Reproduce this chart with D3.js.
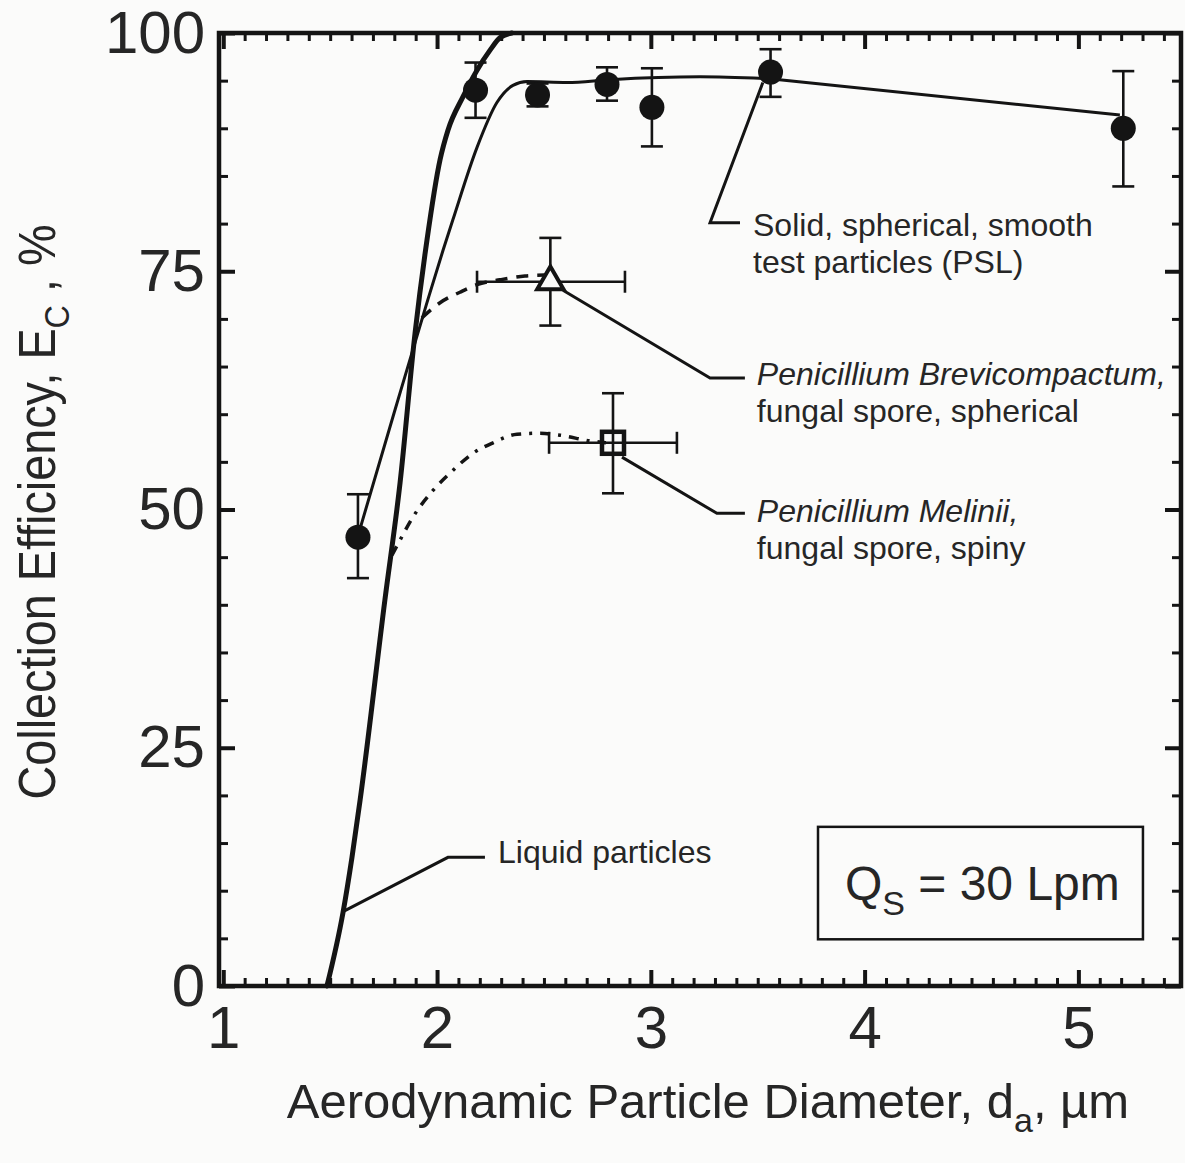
<!DOCTYPE html>
<html>
<head>
<meta charset="utf-8">
<script src="https://cdn.jsdelivr.net/npm/d3@7"></script>
<style>
  body { margin: 0; background: #fbfbfa; }
  svg { display: block; font-family: "Liberation Sans", Arial, Helvetica, sans-serif; }
</style>
</head>
<body>
<svg id="chart" width="1185" height="1163"></svg>
<script>
// ---- axis ticks ----
const xMajorTicks = [1, 2, 3, 4, 5];
const yMajorTicks = [0, 25, 50, 75, 100];

// ---- PSL test particles (filled circles, with vertical error bars) ----
const pslDiameter   = [1.63, 2.18, 2.47, 2.795, 3.005, 3.56, 5.21];
const pslEfficiency = [47.1, 94.0, 93.5, 94.6, 92.2, 95.9, 90.0];
const pslErrLow     = [42.8, 91.1, 92.3, 92.9, 88.1, 93.3, 83.9];
const pslErrHigh    = [51.6, 96.9, 94.7, 96.4, 96.3, 98.3, 96.0];

// ---- fungal spores: [diameter, efficiency], with x and y error ranges ----
const brevPoint   = [2.53, 73.9];
const brevXRange  = [2.187, 2.879];
const brevYRange  = [69.3, 78.5];
const melPoint    = [2.823, 57.0];
const melXRange   = [2.524, 3.122];
const melYRange   = [51.7, 62.2];

// ---- fitted curves [diameter, efficiency] ----
const liquidCurve = [
  [1.485, 0], [1.560, 7.7], [1.602, 13.5], [1.640, 19.5], [1.756, 40.5],
  [1.827, 52.8], [1.897, 68.5], [1.953, 78.3], [2.014, 86.7], [2.051, 89.8],
  [2.121, 93.3], [2.187, 96.1], [2.248, 98.2], [2.294, 99.5], [2.350, 100]
];
const pslCurve = [
  [1.64, 48.0], [1.80, 60.2], [1.95, 71.5], [2.028, 77.2], [2.074, 80.4],
  [2.187, 88.0], [2.280, 92.7], [2.355, 94.5], [2.421, 94.9],
  [2.608, 94.8], [2.809, 95.1], [3.230, 95.4], [3.557, 95.2]
];
const pslTail = [[3.557, 95.2], [5.194, 91.4]];
const brevCurve = [
  [1.929, 70.1], [2.014, 71.7], [2.107, 72.8], [2.187, 73.6], [2.294, 74.1],
  [2.411, 74.5], [2.510, 74.6]
];
const melCurve = [
  [1.789, 45.2], [1.827, 46.8], [1.887, 49.2], [1.981, 52.0], [2.074, 54.1],
  [2.168, 55.9], [2.262, 57.0], [2.374, 57.9], [2.481, 58.0], [2.575, 57.8],
  [2.715, 57.2], [2.790, 57.0]
];

// ---- annotation leaders (data units) ----
const liquidLeader = [[1.560, 7.8], [2.051, 13.5], [2.224, 13.5]];
const pslLeader    = [[3.524, 94.8], [3.277, 80.1], [3.417, 80.1]];
const brevLeader   = [[2.589, 73.0], [3.277, 63.8], [3.440, 63.8]];
const melLeader    = [[2.865, 55.5], [3.309, 49.6], [3.440, 49.6]];

const ink = "#141414";
const textInk = "#262626";

const svg = d3.select("#chart");
const x = d3.scaleLinear().domain([0.98, 5.48]).range([219, 1181]);
const y = d3.scaleLinear().domain([0, 100]).range([986, 33]);

const xMinor = d3.range(10, 55).map(i => i / 10).filter(v => Math.abs(v - Math.round(v)) > 1e-6);
const yMinor = d3.range(0, 101, 5).filter(v => v % 25 !== 0);

function tidy(g, width) {
  g.select(".domain").remove();
  g.selectAll(".tick line").attr("stroke", ink).attr("stroke-width", width);
  g.selectAll(".tick text").attr("font-size", 60).attr("fill", textInk)
    .attr("font-family", '"Liberation Sans", Arial, sans-serif');
}

// bottom
svg.append("g").attr("transform", `translate(0,${y(0)})`)
  .call(d3.axisBottom(x).tickValues(xMinor).tickSize(-8).tickFormat(""))
  .call(g => tidy(g, 3));
svg.append("g").attr("transform", `translate(0,${y(0)})`)
  .call(d3.axisBottom(x).tickValues(xMajorTicks).tickSize(-16).tickPadding(19).tickFormat(d3.format("d")))
  .call(g => tidy(g, 4));
// top
svg.append("g").attr("transform", `translate(0,${y(100)})`)
  .call(d3.axisTop(x).tickValues(xMinor).tickSize(-8).tickFormat(""))
  .call(g => tidy(g, 3));
svg.append("g").attr("transform", `translate(0,${y(100)})`)
  .call(d3.axisTop(x).tickValues(xMajorTicks).tickSize(-16).tickFormat(""))
  .call(g => tidy(g, 4));
// left
svg.append("g").attr("transform", `translate(${x.range()[0]},0)`)
  .call(d3.axisLeft(y).tickValues(yMinor).tickSize(-9).tickFormat(""))
  .call(g => tidy(g, 3));
svg.append("g").attr("transform", `translate(${x.range()[0]},0)`)
  .call(d3.axisLeft(y).tickValues(yMajorTicks).tickSize(-16).tickPadding(14).tickFormat(d3.format("d")))
  .call(g => tidy(g, 4));
// right
svg.append("g").attr("transform", `translate(${x.range()[1]},0)`)
  .call(d3.axisRight(y).tickValues(yMinor).tickSize(-9).tickFormat(""))
  .call(g => tidy(g, 3));
svg.append("g").attr("transform", `translate(${x.range()[1]},0)`)
  .call(d3.axisRight(y).tickValues(yMajorTicks).tickSize(-16).tickFormat(""))
  .call(g => tidy(g, 4));

// ---- curves ----
const line = d3.line().x(d => x(d[0])).y(d => y(d[1])).curve(d3.curveMonotoneX);
const plain = d3.line().x(d => x(d[0])).y(d => y(d[1]));

svg.append("path").attr("d", line(liquidCurve))
  .attr("fill", "none").attr("stroke", ink).attr("stroke-width", 5).attr("stroke-linecap", "round");
svg.append("path").attr("d", line(pslCurve))
  .attr("fill", "none").attr("stroke", ink).attr("stroke-width", 3);
svg.append("path").attr("d", plain(pslTail))
  .attr("fill", "none").attr("stroke", ink).attr("stroke-width", 3);
svg.append("path").attr("d", line(brevCurve))
  .attr("fill", "none").attr("stroke", ink).attr("stroke-width", 3.5).attr("stroke-dasharray", "12,9");
svg.append("path").attr("d", line(melCurve))
  .attr("fill", "none").attr("stroke", ink).attr("stroke-width", 3.5).attr("stroke-dasharray", "10,8,3,8");

// ---- error bars ----
const cap = 11;
const eb = svg.append("g").attr("stroke", ink).attr("stroke-width", 2.6).attr("fill", "none");
function vBar(xv, lo, hi) {
  eb.append("line").attr("x1", x(xv)).attr("x2", x(xv)).attr("y1", y(lo)).attr("y2", y(hi));
  [lo, hi].forEach(v => eb.append("line").attr("x1", x(xv) - cap).attr("x2", x(xv) + cap)
    .attr("y1", y(v)).attr("y2", y(v)));
}
function hBar(yv, lo, hi) {
  eb.append("line").attr("y1", y(yv)).attr("y2", y(yv)).attr("x1", x(lo)).attr("x2", x(hi));
  [lo, hi].forEach(v => eb.append("line").attr("y1", y(yv) - cap).attr("y2", y(yv) + cap)
    .attr("x1", x(v)).attr("x2", x(v)));
}
pslDiameter.forEach((d, i) => vBar(d, pslErrLow[i], pslErrHigh[i]));
vBar(brevPoint[0], brevYRange[0], brevYRange[1]);
hBar(brevPoint[1], brevXRange[0], brevXRange[1]);
vBar(melPoint[0], melYRange[0], melYRange[1]);
hBar(melPoint[1], melXRange[0], melXRange[1]);

// ---- leader lines ----
[liquidLeader, pslLeader, brevLeader, melLeader].forEach(l =>
  svg.append("path").attr("d", plain(l)).attr("fill", "none")
    .attr("stroke", ink).attr("stroke-width", 3).attr("stroke-linejoin", "miter"));

// ---- markers ----
svg.append("g").selectAll("circle").data(pslDiameter).join("circle")
  .attr("cx", d => x(d)).attr("cy", (d, i) => y(pslEfficiency[i])).attr("r", 12.5)
  .attr("fill", ink);

svg.append("path")
  .attr("d", d3.symbol(d3.symbolTriangle, 300)())
  .attr("transform", `translate(${x(brevPoint[0])},${y(brevPoint[1])})`)
  .attr("fill", "#fbfbfa").attr("stroke", ink).attr("stroke-width", 4).attr("stroke-linejoin", "miter");

svg.append("rect")
  .attr("x", x(melPoint[0]) - 11).attr("y", y(melPoint[1]) - 11)
  .attr("width", 22).attr("height", 22)
  .attr("fill", "none").attr("stroke", ink).attr("stroke-width", 4.5);

// ---- frame ----
svg.append("rect")
  .attr("x", x.range()[0]).attr("y", y.range()[1])
  .attr("width", x.range()[1] - x.range()[0]).attr("height", y.range()[0] - y.range()[1])
  .attr("fill", "none").attr("stroke", ink).attr("stroke-width", 4.5);

// ---- annotation text ----
function note(xd, yd, lines, italicFirst) {
  const t = svg.append("text").attr("x", x(xd)).attr("y", y(yd))
    .attr("font-size", 32).attr("fill", textInk);
  lines.forEach((s, i) => t.append("tspan").attr("x", x(xd)).attr("dy", i === 0 ? 0 : 37)
    .attr("font-style", italicFirst && i === 0 ? "italic" : "normal").text(s));
}
note(2.285, 12.9, ["Liquid particles"], false);
note(3.478, 78.7, ["Solid, spherical, smooth", "test particles (PSL)"], false);
note(3.496, 63.1, ["Penicillium Brevicompactum,", "fungal spore, spherical"], true);
note(3.496, 48.7, ["Penicillium Melinii,", "fungal spore, spiny"], true);

// ---- flow rate box ----
svg.append("rect")
  .attr("x", x(3.782)).attr("y", y(16.7))
  .attr("width", x(5.302) - x(3.782)).attr("height", y(4.9) - y(16.7))
  .attr("fill", "none").attr("stroke", ink).attr("stroke-width", 2.5);
const q = svg.append("text").attr("x", x(3.908)).attr("y", y(9.0))
  .attr("font-size", 48).attr("fill", textInk);
q.append("tspan").text("Q");
q.append("tspan").attr("font-size", 34).attr("dy", 15).text("S");
q.append("tspan").attr("dy", -15).text(" = 30 Lpm");

// ---- axis titles ----
const xt = svg.append("text").attr("x", 708).attr("y", 1118)
  .attr("text-anchor", "middle").attr("font-size", 49).attr("fill", textInk);
xt.append("tspan").text("Aerodynamic Particle Diameter, d");
xt.append("tspan").attr("font-size", 34).attr("dy", 14).text("a");
xt.append("tspan").attr("dy", -14).text(", \u00b5m");

const yt = svg.append("text").attr("font-size", 52).attr("fill", textInk)
  .attr("text-anchor", "middle");
yt.append("tspan").text("Collection Efficiency, E");
yt.append("tspan").attr("font-size", 36).attr("dy", 14).text("C");
yt.append("tspan").attr("dy", -14).text(" , %");
const ytw = yt.node().getComputedTextLength();
yt.attr("transform", `translate(55,512) rotate(-90) scale(${575 / ytw},1)`);
</script>
</body>
</html>
